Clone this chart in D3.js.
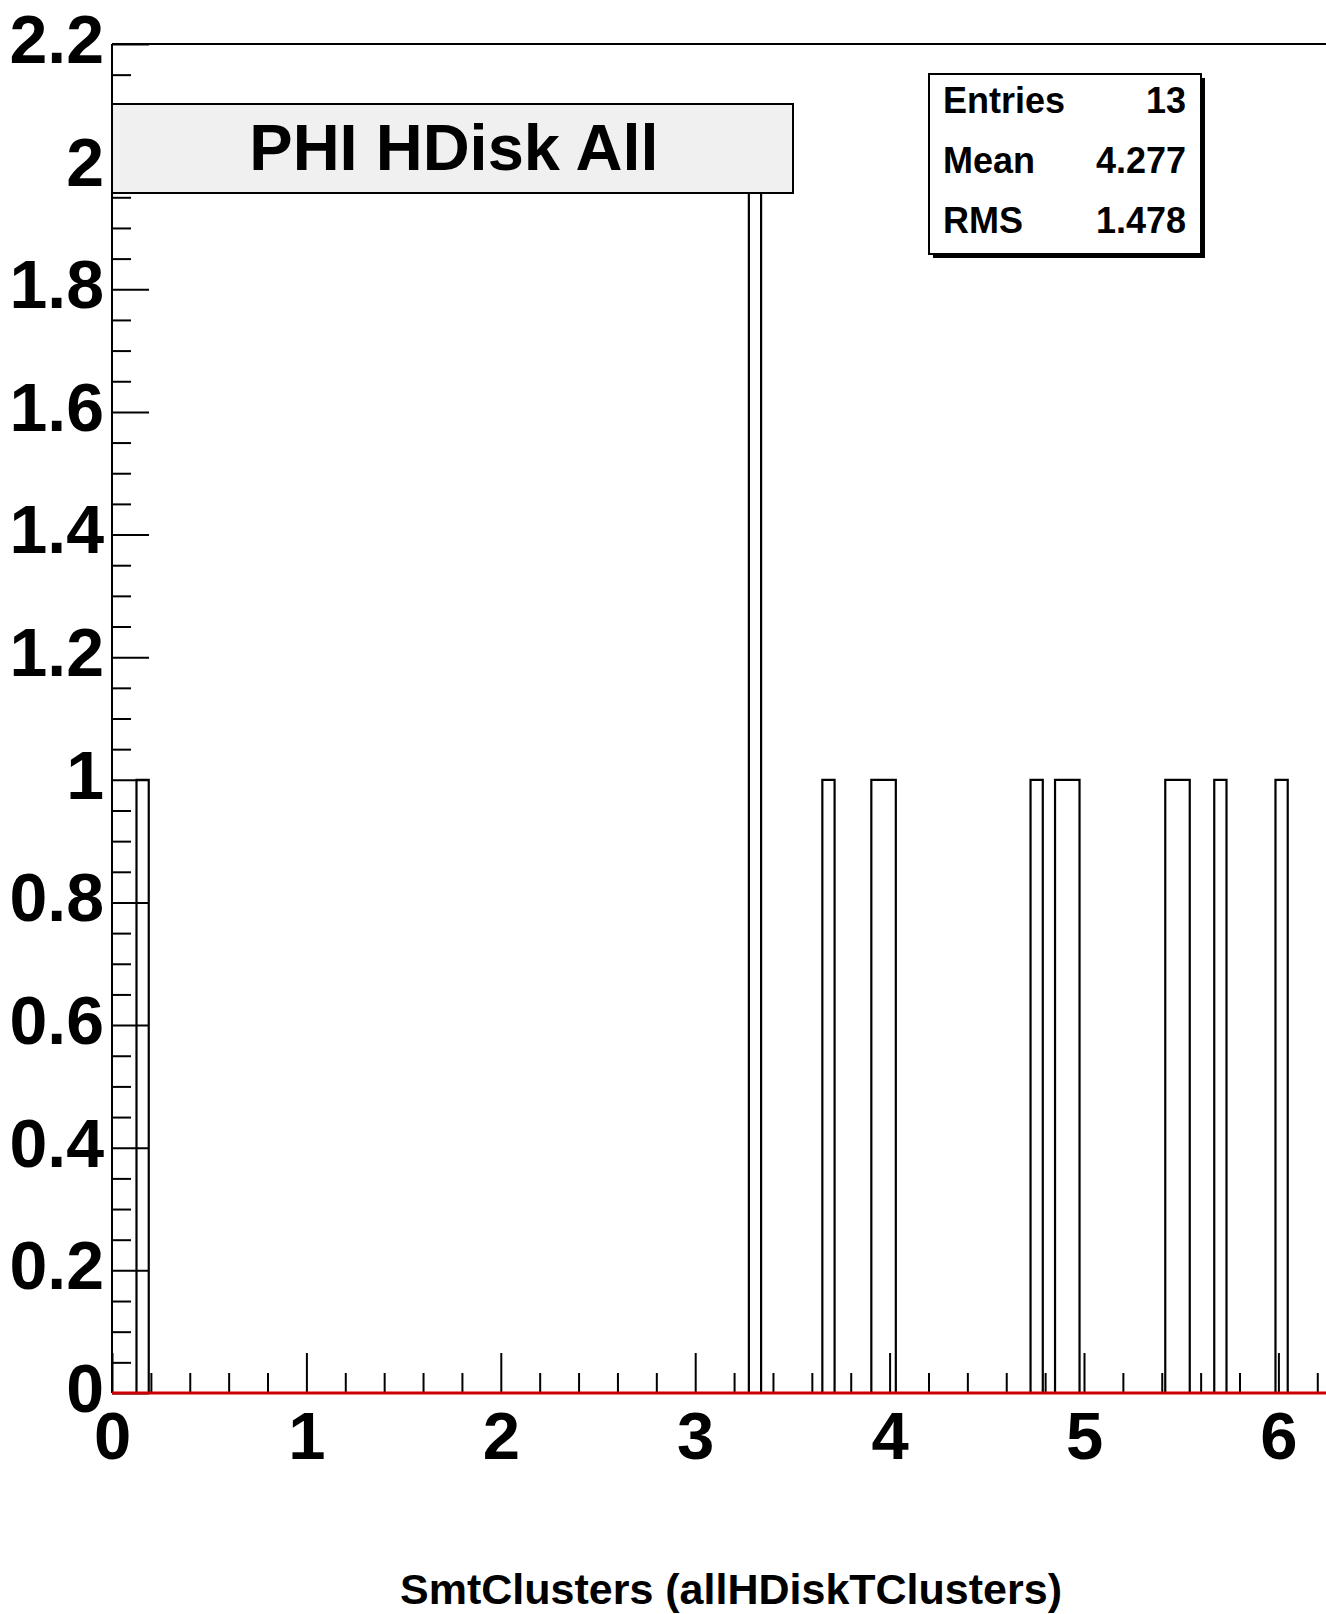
<!DOCTYPE html>
<html>
<head>
<meta charset="utf-8">
<script src="https://cdn.jsdelivr.net/npm/d3@7"></script>
<style>
  body { margin: 0; background: #fff; }
  text { font-family: "Liberation Sans", Arial, Helvetica, sans-serif; font-weight: bold; }
</style>
</head>
<body>
<div id="chart"></div>
<script>
// histogram: 100 bins over [0, 6.3], only filled bins listed
const nBins = 100;
const xMax = 6.3;
const filledBins = [2, 52, 58, 62, 63, 75, 77, 78, 86, 87, 90, 95];
const binCounts  = [1, 2, 1, 1, 1, 1, 1, 1, 1, 1, 1, 1];

const xTicks = [0, 1, 2, 3, 4, 5, 6];
const xTickLabels = ["0", "1", "2", "3", "4", "5", "6"];
const yTicks = [0, 0.2, 0.4, 0.6, 0.8, 1, 1.2, 1.4, 1.6, 1.8, 2, 2.2];
const yTickLabels = ["0", "0.2", "0.4", "0.6", "0.8", "1", "1.2", "1.4", "1.6", "1.8", "2", "2.2"];

const title = "PHI HDisk All";
const xTitle = "SmtClusters (allHDiskTClusters)";
const statNames = ["Entries", "Mean", "RMS"];
const statValues = ["13", "4.277", "1.478"];

const W = 1326, H = 1614;
const x0 = 112, yTop = 44, yBot = 1393;

const svg = d3.select("#chart").append("svg")
    .attr("width", W)
    .attr("height", H);
svg.append("rect").attr("width", W).attr("height", H).attr("fill", "#fff");

const x = d3.scaleLinear().domain([0, xMax]).range([x0, x0 + xMax * 194.4]);
const y = d3.scaleLinear().domain([0, 2.2]).range([yBot, yTop]);

// full bin contents
const counts = new Array(nBins).fill(0);
filledBins.forEach((b, i) => counts[b] = binCounts[i]);
const bw = xMax / nBins;
const pts = counts.map((c, i) => [i * bw, c]);
pts.push([xMax, counts[nBins - 1]]);

// frame
svg.append("line")
    .attr("x1", x0).attr("x2", x(xMax))
    .attr("y1", yTop).attr("y2", yTop)
    .attr("stroke", "#000").attr("stroke-width", 2);

// histogram outline
const line = d3.line()
    .x(d => x(d[0]))
    .y(d => y(d[1]))
    .curve(d3.curveStepAfter);
svg.append("path")
    .datum([[0, 0]].concat(pts))
    .attr("d", line)
    .attr("fill", "none")
    .attr("stroke", "#000")
    .attr("stroke-width", 2.2);

// x axis ticks (inward)
const xMinor = d3.range(0, 6.3, 0.2).filter(v => Math.abs(v - Math.round(v)) > 1e-6);
svg.append("g")
    .attr("transform", `translate(0,${yBot})`)
    .call(d3.axisBottom(x).tickValues(xMinor).tickSize(-20).tickFormat(""))
    .call(g => g.select(".domain").remove())
    .call(g => g.selectAll("line").attr("stroke-width", 2));
svg.append("g")
    .attr("transform", `translate(0,${yBot})`)
    .call(d3.axisBottom(x).tickValues(xTicks).tickSize(-40).tickPadding(18)
        .tickFormat((d, i) => xTickLabels[i]))
    .call(g => g.select(".domain").remove())
    .call(g => g.selectAll("line").attr("stroke-width", 2))
    .call(g => g.selectAll("text").attr("font-size", 67).attr("fill", "#000")
        .attr("font-family", "'Liberation Sans', Arial, sans-serif"));

// y axis ticks (inward)
const yMinor = d3.range(0, 2.2001, 0.05).filter(v => Math.abs(v / 0.2 - Math.round(v / 0.2)) > 1e-6);
svg.append("g")
    .attr("transform", `translate(${x0},0)`)
    .call(d3.axisLeft(y).tickValues(yMinor).tickSize(-19).tickFormat(""))
    .call(g => g.select(".domain").remove())
    .call(g => g.selectAll("line").attr("stroke-width", 2));
svg.append("g")
    .attr("transform", `translate(${x0},0)`)
    .call(d3.axisLeft(y).tickValues(yTicks).tickSize(-37).tickPadding(8)
        .tickFormat((d, i) => yTickLabels[i]))
    .call(g => g.select(".domain").remove())
    .call(g => g.selectAll("line").attr("stroke-width", 2))
    .call(g => g.selectAll("text").attr("font-size", 68).attr("fill", "#000").attr("dy", "0.27em")
        .attr("font-family", "'Liberation Sans', Arial, sans-serif"));

// y axis line
svg.append("line")
    .attr("x1", x0).attr("x2", x0)
    .attr("y1", yTop).attr("y2", yBot)
    .attr("stroke", "#000").attr("stroke-width", 2);

// red line at zero
svg.append("line")
    .attr("x1", x0).attr("x2", x(xMax))
    .attr("y1", y(0)).attr("y2", y(0))
    .attr("stroke", "#cc0000").attr("stroke-width", 3);

// title box
svg.append("rect")
    .attr("x", x0).attr("y", 104)
    .attr("width", 793 - x0).attr("height", 89)
    .attr("fill", "#f0f0f0").attr("stroke", "#000").attr("stroke-width", 2);
svg.append("text")
    .attr("x", 454).attr("y", 170)
    .attr("text-anchor", "middle")
    .attr("font-size", 65)
    .text(title);

// stats box
svg.append("rect")
    .attr("x", 933).attr("y", 78)
    .attr("width", 272).attr("height", 180)
    .attr("fill", "#000");
svg.append("rect")
    .attr("x", 929).attr("y", 74)
    .attr("width", 272).attr("height", 180)
    .attr("fill", "#fff").attr("stroke", "#000").attr("stroke-width", 2);
statNames.forEach((s, i) => {
    svg.append("text")
        .attr("x", 943).attr("y", 113 + i * 60)
        .attr("font-size", 36)
        .text(s);
    svg.append("text")
        .attr("x", 1186).attr("y", 113 + i * 60)
        .attr("text-anchor", "end")
        .attr("font-size", 36)
        .text(statValues[i]);
});

// x axis title
svg.append("text")
    .attr("x", 731).attr("y", 1604)
    .attr("text-anchor", "middle")
    .attr("font-size", 43)
    .text(xTitle);
</script>
</body>
</html>
